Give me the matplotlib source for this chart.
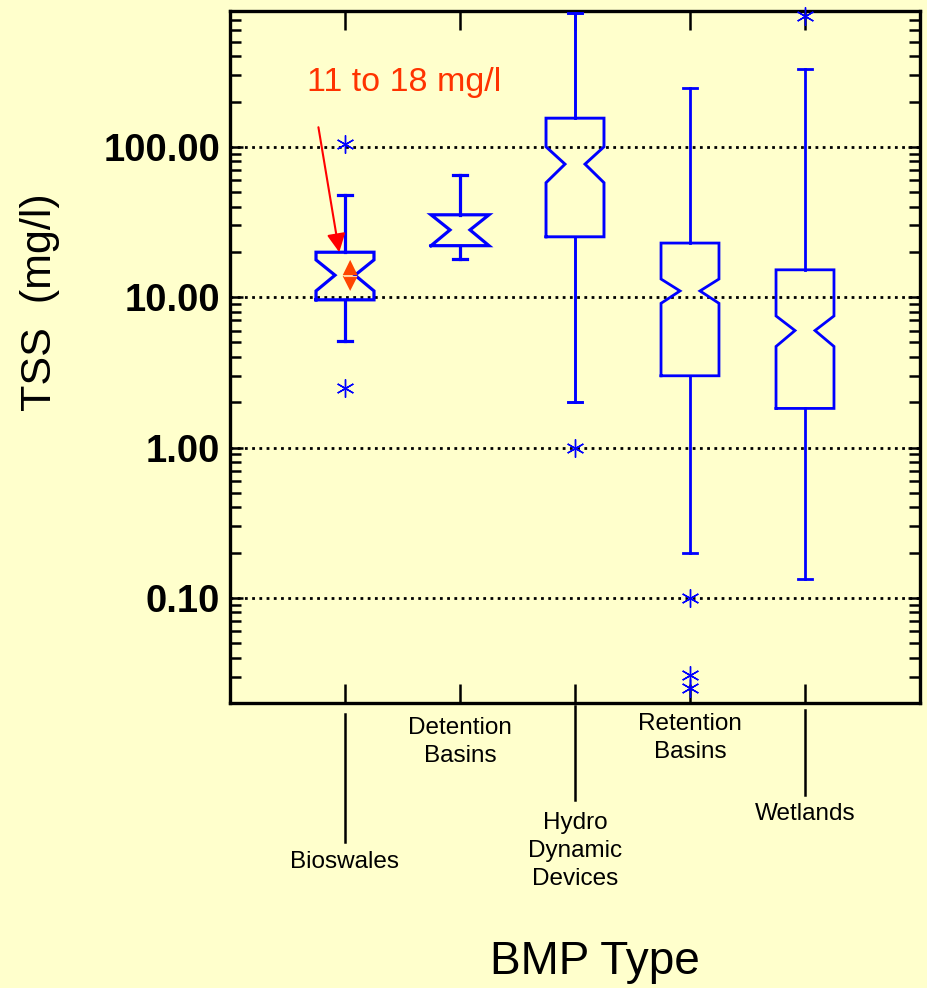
import matplotlib
matplotlib.use("Agg")
import matplotlib.pyplot as plt
import matplotlib.transforms as mtransforms
from matplotlib import font_manager as fm
from matplotlib.lines import Line2D

# ---------------- data ----------------
categories = ['Bioswales', 'Detention\nBasins', 'Hydro\nDynamic\nDevices',
              'Retention\nBasins', 'Wetlands']
whislo = [5.1, 17.9, 2.0, 0.20, 0.134]
q1 = [9.6, 22.0, 25.2, 3.0, 1.82]
cilo = [11.0, 22.0, 57.7, 9.1, 4.7]
med = [14.0, 28.0, 76.7, 11.0, 6.0]
cihi = [17.7, 35.3, 100.0, 13.2, 7.5]
q3 = [19.9, 35.3, 155.0, 22.9, 15.2]
whishi = [48.0, 65.0, 780.0, 245.0, 328.0]
fliers = [[104.0, 2.5], [], [1.0], [0.1, 0.0306, 0.0252], [742.0]]
ytick_vals = [0.1, 1, 10, 100]
annot_text = '11 to 18 mg/l'

# label layout (figure pixel rows) and leader lines
label_y_px = [862, 742, 851, 738, 814]
leader_px = [(714, 842), None, (706, 800), None, (710, 795)]

W, H = 927, 988
BG = '#FFFFCC'
BLUE = '#0000FF'

names = {f.name for f in fm.fontManager.ttflist}
SANS = 'Liberation Sans' if 'Liberation Sans' in names else 'DejaVu Sans'
NARROW = 'Liberation Sans Narrow' if 'Liberation Sans Narrow' in names else SANS

fig = plt.figure(figsize=(W / 100, H / 100), dpi=100, facecolor=BG)
ax = fig.add_axes([230 / W, 1 - 703 / H, 690 / W, 692 / H])
ax.set_facecolor(BG)
ax.set_yscale('log')
ax.set_ylim(0.02, 800)
ax.set_xlim(0, len(categories) + 1)

positions = list(range(1, len(categories) + 1))
hw = 0.252   # box half width
nw = 0.087   # notch inner half width
cw = 0.057   # cap half width
lws = [2.3, 2.3, 2.1, 2.0, 2.0]

for i, p in enumerate(positions):
    lw = lws[i]
    xs = [p - hw, p + hw, p + hw, p + nw, p + hw, p + hw, p - hw, p - hw, p - nw, p - hw, p - hw]
    ys = [q1[i], q1[i], cilo[i], med[i], cihi[i], q3[i], q3[i], cihi[i], med[i], cilo[i], q1[i]]
    ax.plot(xs, ys, color=BLUE, lw=lw, solid_joinstyle='miter', zorder=3)
    ax.plot([p, p], [q3[i], whishi[i]], color=BLUE, lw=lw, zorder=3)
    ax.plot([p, p], [q1[i], whislo[i]], color=BLUE, lw=lw, zorder=3)
    ax.plot([p - cw, p + cw], [whishi[i], whishi[i]], color=BLUE, lw=lw, zorder=3)
    ax.plot([p - cw, p + cw], [whislo[i], whislo[i]], color=BLUE, lw=lw, zorder=3)
    if fliers[i]:
        ax.plot([p] * len(fliers[i]), fliers[i], linestyle='none', marker=(6, 2, 0),
                markersize=13, markeredgewidth=1.0, color=BLUE, zorder=4, clip_on=False)

# gridlines
for v in ytick_vals:
    ax.axhline(v, color='black', lw=2.0, linestyle=(0, (1, 1.6)), zorder=1)

# red confidence triangles on Bioswales
tx = positions[0] + 0.045
tw = 0.065
ax.fill([tx - tw, tx + tw, tx], [med[0], med[0], cihi[0]], color='#FF4500', zorder=5, lw=0)
ax.fill([tx - tw, tx + tw, tx], [med[0] * 0.985, med[0] * 0.985, cilo[0]], color='#FF4500', zorder=5, lw=0)
ax.plot([tx - tw * 0.8, tx + tw * 0.8], [med[0] * 0.993] * 2, color='#FFD0A0', lw=0.8, zorder=6)

# arrow + annotation
ax.annotate('', xy=(positions[0] - 0.05, q3[0]), xytext=(-15, 90), textcoords='offset points',
            arrowprops=dict(arrowstyle='-|>', color='#FF0000', lw=1.5, mutation_scale=28,
                            shrinkA=0, shrinkB=0), zorder=6)
fig.text(404 / W, 1 - 82 / H, annot_text, color='#FF3300', fontsize=28 if NARROW != SANS else 24.5,
         family=NARROW, ha='center', va='center')

# axes styling
for s in ax.spines.values():
    s.set_linewidth(2.4)
ax.set_yticks(ytick_vals)
ax.set_yticklabels(['%.2f' % v for v in ytick_vals], fontsize=27.5, fontweight='bold', family=SANS)
ax.tick_params(axis='y', which='both', direction='in', left=True, right=True, width=1.8, pad=7)
ax.tick_params(axis='y', which='major', length=9)
ax.tick_params(axis='y', which='minor', length=8)
ax.set_xticks(positions)
ax.set_xticklabels([''] * len(positions))
ax.tick_params(axis='x', which='both', direction='in', top=True, bottom=True, length=14, width=1.8)
ax.minorticks_on()
ax.xaxis.set_minor_locator(matplotlib.ticker.NullLocator())

# category labels with leader lines
trans = mtransforms.blended_transform_factory(ax.transData, fig.transFigure)
for i, p in enumerate(positions):
    if leader_px[i]:
        y0, y1 = leader_px[i]
        fig.add_artist(Line2D([p, p], [1 - y0 / H, 1 - y1 / H], transform=trans,
                              color='black', lw=1.8))
    fig.text(p, 1 - label_y_px[i] / H, categories[i], transform=trans, ha='center',
             va='center', fontsize=17.5, family=SANS, linespacing=1.38)

fig.text(40 / W, 1 - 302 / H, 'TSS  (mg/l)', rotation=90, ha='center', va='center',
         fontsize=31, family=SANS)
fig.text(595 / W, 1 - 962 / H, 'BMP Type', ha='center', va='center', fontsize=33, family=SANS)

fig.savefig('out.png', dpi=100, facecolor=BG)
